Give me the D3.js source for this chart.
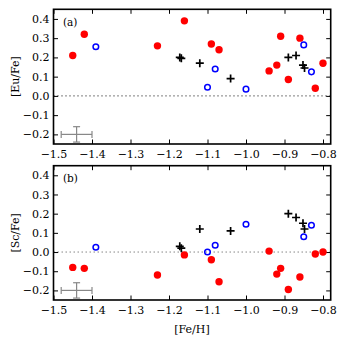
<!DOCTYPE html>
<html><head><meta charset="utf-8">
<script src="https://cdn.jsdelivr.net/npm/d3@7"></script>
<style>body{margin:0;background:#fff}svg{display:block}</style>
</head><body>
<script>
// ---- data ----
const redFeH   = [-1.45, -1.42, -1.23, -1.16, -1.09, -1.07, -0.94, -0.92, -0.91, -0.89, -0.86, -0.82, -0.80];
const redEu    = [0.21, 0.32, 0.26, 0.39, 0.27, 0.24, 0.13, 0.16, 0.31, 0.085, 0.30, 0.04, 0.17];
const redSc    = [-0.08, -0.085, -0.12, -0.015, -0.04, -0.155, 0.005, -0.115, -0.085, -0.195, -0.13, -0.01, 0.0];
const blueFeH  = [-1.39, -1.10, -1.08, -1.00, -0.85, -0.83];
const blueEu   = [0.255, 0.045, 0.14, 0.035, 0.265, 0.125];
const blueSc   = [0.025, 0.0, 0.035, 0.145, 0.08, 0.14];
const plusFeH  = [-1.172, -1.168, -1.12, -1.04, -0.89, -0.87, -0.852, -0.848];
const plusEu   = [0.20, 0.195, 0.17, 0.09, 0.20, 0.21, 0.16, 0.145];
const plusSc   = [0.03, 0.02, 0.12, 0.11, 0.20, 0.18, 0.15, 0.12];
const errPoint = {x: -1.44, y: -0.2, xerr: 0.04, yerr: 0.04};
const xTicks   = [-1.5, -1.4, -1.3, -1.2, -1.1, -1.0, -0.9, -0.8];
const yTicks   = [-0.2, -0.1, 0.0, 0.1, 0.2, 0.3, 0.4];
const panels = [
  {tag: "(a)", label: "[Eu/Fe]", red: redEu, blue: blueEu, plus: plusEu, top: 9.3, bottom: 144, zeroColor: "#000", zeroDash: "1,3"},
  {tag: "(b)", label: "[Sc/Fe]", red: redSc, blue: blueSc, plus: plusSc, top: 165.7, bottom: 300, zeroColor: "#888", zeroDash: "1.5,2.5"}
];

const W = 346, H = 345;
const font = "DejaVu Serif";
const svg = d3.select("body").append("svg").attr("width", W).attr("height", H);
const x = d3.scaleLinear().domain([-1.5, -0.78]).range([53.5, 330.7]);
const fmt = v => { const s = d3.format(".1f")(Math.abs(v) < 1e-9 ? 0 : v); return s.replace("-", "\u2212"); };

panels.forEach((p, i) => {
  const y = d3.scaleLinear().domain([-0.25, 0.45]).range([p.bottom, p.top]);
  const g = svg.append("g");
  const [x0, x1] = x.range();

  // zero line
  g.append("line").attr("x1", x0).attr("x2", x1).attr("y1", y(0)).attr("y2", y(0))
    .attr("stroke", p.zeroColor).attr("stroke-width", 1).attr("stroke-dasharray", p.zeroDash);

  // axes (ticks inward)
  const tickLen = 4.5;
  const axB = d3.axisBottom(x).tickValues(xTicks).tickSizeInner(-tickLen).tickSizeOuter(0).tickPadding(6).tickFormat(fmt);
  const axT = d3.axisTop(x).tickValues(xTicks).tickSizeInner(-tickLen).tickSizeOuter(0).tickFormat("");
  const axL = d3.axisLeft(y).tickValues(yTicks).tickSizeInner(-tickLen).tickSizeOuter(0).tickPadding(4).tickFormat(fmt);
  const axR = d3.axisRight(y).tickValues(yTicks).tickSizeInner(-tickLen).tickSizeOuter(0).tickFormat("");
  const style = sel => {
    sel.select(".domain").remove();
    sel.selectAll(".tick line").attr("stroke", "#000").attr("stroke-width", 1);
    sel.selectAll(".tick text").attr("font-family", font).attr("font-size", 11).attr("fill", "#000");
  };
  g.append("g").attr("transform", `translate(0,${p.bottom})`).call(axB).call(style);
  g.append("g").attr("transform", `translate(0,${p.top})`).call(axT).call(style);
  g.append("g").attr("transform", `translate(${x0},0)`).call(axL).call(style);
  g.append("g").attr("transform", `translate(${x1},0)`).call(axR).call(style);

  // error bar
  const ec = "#888", cap = 3.5;
  const ex = x(errPoint.x), ey = y(errPoint.y);
  const xa = x(errPoint.x - errPoint.xerr), xb = x(errPoint.x + errPoint.xerr);
  const ya = y(errPoint.y - errPoint.yerr), yb = y(errPoint.y + errPoint.yerr);
  const eg = g.append("g").attr("stroke", ec).attr("stroke-width", 1.2);
  eg.append("line").attr("x1", xa).attr("x2", xb).attr("y1", ey).attr("y2", ey);
  eg.append("line").attr("x1", ex).attr("x2", ex).attr("y1", ya).attr("y2", yb);
  [xa, xb].forEach(v => eg.append("line").attr("x1", v).attr("x2", v).attr("y1", ey - cap).attr("y2", ey + cap));
  [ya, yb].forEach(v => eg.append("line").attr("x1", ex - cap).attr("x2", ex + cap).attr("y1", v).attr("y2", v));

  // red filled
  g.append("g").selectAll("circle").data(redFeH.map((v, k) => [v, p.red[k]])).join("circle")
    .attr("cx", d => x(d[0])).attr("cy", d => y(d[1])).attr("r", 3.7).attr("fill", "#ff0000");
  // blue open
  g.append("g").selectAll("circle").data(blueFeH.map((v, k) => [v, p.blue[k]])).join("circle")
    .attr("cx", d => x(d[0])).attr("cy", d => y(d[1])).attr("r", 2.8)
    .attr("fill", "none").attr("stroke", "#0000ff").attr("stroke-width", 1.5);
  // black plus
  const s = 4;
  g.append("g").selectAll("path").data(plusFeH.map((v, k) => [v, p.plus[k]])).join("path")
    .attr("d", d => { const cx = x(d[0]), cy = y(d[1]); return `M${cx - s},${cy}H${cx + s}M${cx},${cy - s}V${cy + s}`; })
    .attr("stroke", "#000").attr("stroke-width", 1.7).attr("fill", "none");

  // frame
  g.append("rect").attr("x", x0).attr("y", p.top).attr("width", x1 - x0).attr("height", p.bottom - p.top)
    .attr("fill", "none").attr("stroke", "#000").attr("stroke-width", 1.6);

  // panel tag
  g.append("text").attr("x", 63).attr("y", p.top + 16.5).attr("font-family", font).attr("font-size", 10.5).text(p.tag);

  // y label
  g.append("text").attr("transform", `translate(19,${(p.top + p.bottom) / 2}) rotate(-90)`)
    .attr("text-anchor", "middle").attr("font-family", font).attr("font-size", 11).text(p.label);
});

svg.append("text").attr("x", 192).attr("y", 333).attr("text-anchor", "middle")
  .attr("font-family", font).attr("font-size", 11).text("[Fe/H]");
</script>
</body></html>
